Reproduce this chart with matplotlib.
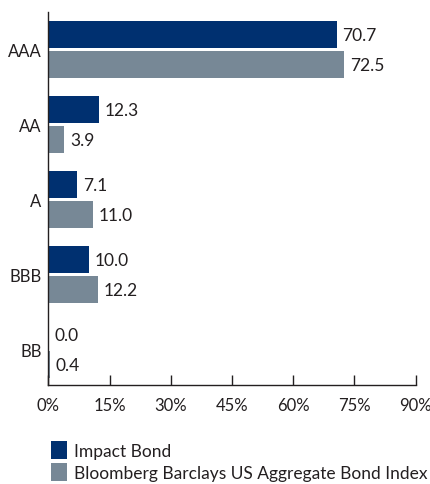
import matplotlib.pyplot as plt
import numpy as np

plt.rcParams['font.family'] = ['Lato', 'DejaVu Sans']

ratings = ["AAA", "AA", "A", "BBB", "BB"]
impact = [70.7, 12.3, 7.1, 10.0, 0.0]
bbg_agg = [72.5, 3.9, 11.0, 12.2, 0.4]
series_names = ["Impact Bond", "Bloomberg Barclays US Aggregate Bond Index"]
xticks = [0, 15, 30, 45, 60, 75, 90]

navy = "#003070"
slate = "#778896"
txt = "#231f20"

W, H = 431, 485
fig = plt.figure(figsize=(W / 100, H / 100), dpi=100, facecolor="white")
ax = fig.add_axes([48.5 / W, 1 - 386 / H, (415.5 - 48.5) / W, (386 - 13) / H])

y = np.arange(len(ratings))
off, h = 0.2, 0.36
b1 = ax.barh(y - off, impact, height=h, color=navy, label=series_names[0])
b2 = ax.barh(y + off, bbg_agg, height=h, color=slate, label=series_names[1])

for bars, vals in ((b1, impact), (b2, bbg_agg)):
    for rect, v in zip(bars, vals):
        ax.annotate(f"{v:.1f}", (v, rect.get_y() + rect.get_height() / 2),
                    xytext=(4, 0), textcoords="offset points",
                    va="center", ha="left", fontsize=12.5, color=txt)

ax.set_xlim(0, 90)
ax.set_ylim(len(ratings) - 0.53, -0.5)
ax.set_yticks(y)
ax.set_yticklabels(ratings, fontsize=12, color=txt)
ax.set_xticks(xticks)
ax.set_xticklabels([f"{t}%" for t in xticks], fontsize=12, color=txt)
ax.tick_params(axis="y", length=0, pad=5)
ax.tick_params(axis="x", direction="in", length=7, width=1, color=txt, pad=9)

for s in ("top", "right"):
    ax.spines[s].set_visible(False)
for s in ("left", "bottom"):
    ax.spines[s].set_color(txt)
    ax.spines[s].set_linewidth(1)

fig.legend(handles=[b1, b2], loc="upper left",
           bbox_to_anchor=(44 / W, 1 - 435 / H), frameon=False,
           fontsize=12.5, handlelength=0.9, handleheight=1.2,
           handletextpad=0.4, labelspacing=0.25, borderaxespad=0,
           labelcolor=txt)

fig.savefig("out.png", dpi=100, facecolor="white")
